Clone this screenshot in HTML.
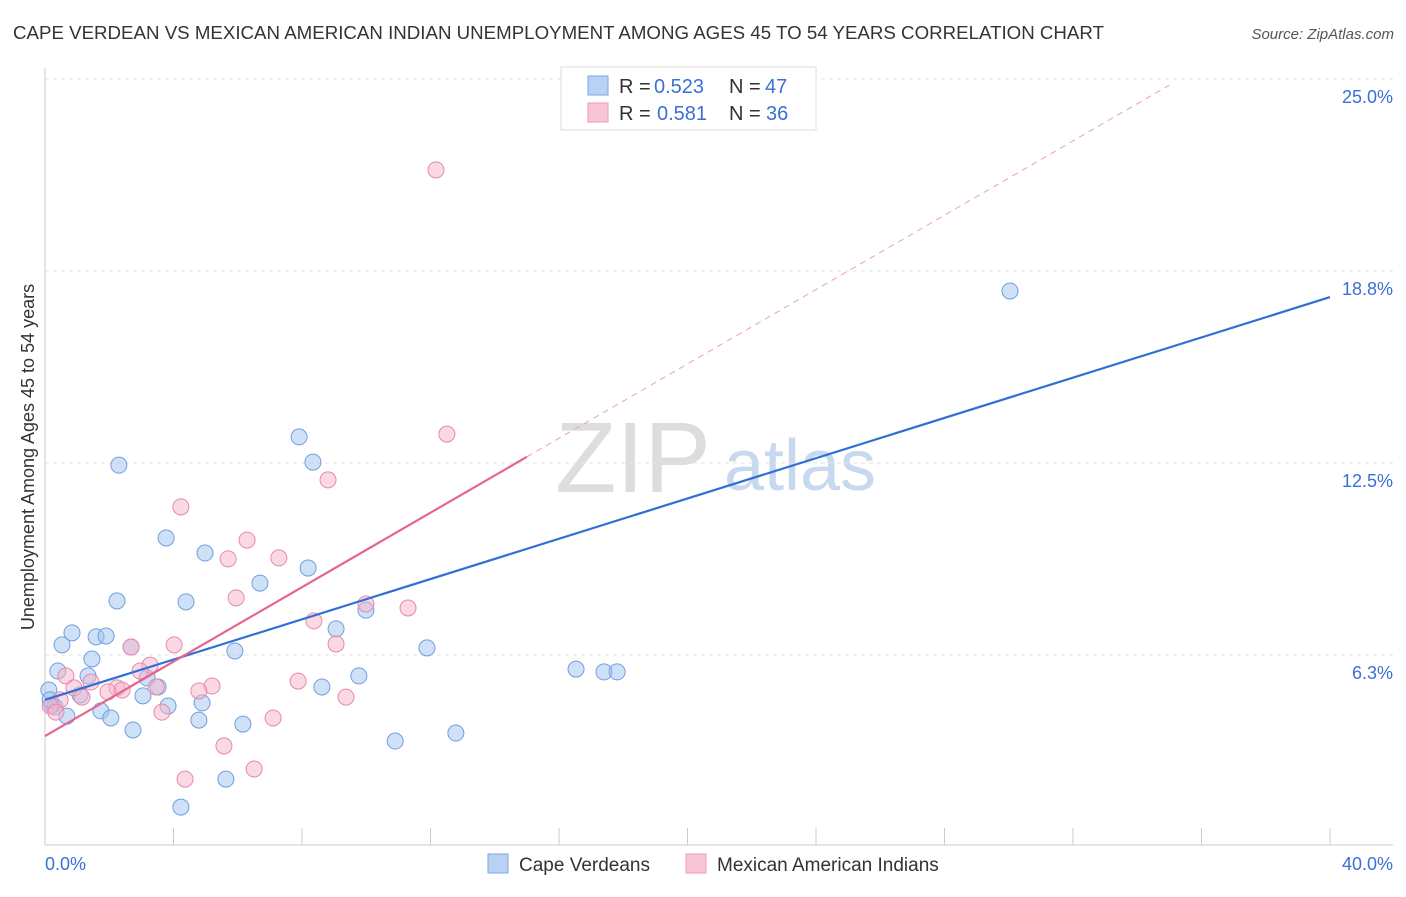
<!DOCTYPE html>
<html><head><meta charset="utf-8"><style>
body{margin:0;background:#fff;font-family:"Liberation Sans",sans-serif;}
svg text{font-family:"Liberation Sans",sans-serif;}
</style></head><body>
<svg id="chart" width="1406" height="892" xmlns="http://www.w3.org/2000/svg">
<text x="13" y="39" font-size="18" fill="#333" textLength="1091" lengthAdjust="spacingAndGlyphs">CAPE VERDEAN VS MEXICAN AMERICAN INDIAN UNEMPLOYMENT AMONG AGES 45 TO 54 YEARS CORRELATION CHART</text>
<text x="1394" y="39" font-size="15" fill="#555" font-style="italic" text-anchor="end">Source: ZipAtlas.com</text>
<g>
<text x="633" y="492" font-size="100" fill="#ddd" font-family="Liberation Serif" text-anchor="middle">ZIP</text>
<text x="800" y="490" font-size="72" fill="#c8d9ef" text-anchor="middle">atlas</text>
</g>
<g id="grid"></g>
<g id="axes"></g>
<g id="marks"></g>
<text transform="translate(34,457) rotate(-90)" font-size="18" fill="#333" text-anchor="middle">Unemployment Among Ages 45 to 54 years</text>
<g>
<rect x="561" y="67" width="255" height="63" fill="#fff" stroke="#ddd"/>
<rect x="588" y="76" width="20" height="19" fill="#b9d2f4" stroke="#7aa6e4"/>
<rect x="588" y="103" width="20" height="19" fill="#f8c6d5" stroke="#ec9ab5"/>
<text x="619" y="93" font-size="20" fill="#333">R =</text>
<text x="654" y="93" font-size="20" fill="#3a6fd8">0.523</text>
<text x="729" y="93" font-size="20" fill="#333">N =</text>
<text x="765" y="93" font-size="20" fill="#3a6fd8">47</text>
<text x="619" y="120" font-size="20" fill="#333">R =</text>
<text x="657" y="120" font-size="20" fill="#3a6fd8">0.581</text>
<text x="729" y="120" font-size="20" fill="#333">N =</text>
<text x="766" y="120" font-size="20" fill="#3a6fd8">36</text>
</g>
<g>
<rect x="488" y="854" width="20" height="19" fill="#b9d2f4" stroke="#7aa6e4"/>
<text x="519" y="871" font-size="19" fill="#333">Cape Verdeans</text>
<rect x="686" y="854" width="20" height="19" fill="#f8c6d5" stroke="#ec9ab5"/>
<text x="717" y="871" font-size="19" fill="#333">Mexican American Indians</text>
</g>
</svg>
<script>
const yTicks=[6.25,12.5,18.75,25];
const yTickLabels=["6.3%","12.5%","18.8%","25.0%"];
const xTickLabels=["0.0%","40.0%"];
const blueX=[2.30,7.91,8.34,3.77,4.98,8.19,6.69,2.24,4.39,0.84,1.59,1.90,0.53,2.68,5.91,1.46,0.40,1.34,3.18,3.52,0.12,1.09,3.05,0.22,3.83,4.89,1.74,2.05,0.68,4.79,6.16,2.74,9.06,9.99,8.62,9.77,11.89,16.53,17.40,17.81,10.90,12.79,5.63,4.23,30.04,0.31,0.16];
const blueY=[12.43,13.35,12.53,10.06,9.57,9.08,8.59,8.01,7.98,6.97,6.84,6.87,6.58,6.51,6.38,6.12,5.73,5.57,5.50,5.21,5.11,4.95,4.92,4.62,4.59,4.69,4.43,4.20,4.26,4.13,4.00,3.81,7.10,7.71,5.21,5.57,6.48,5.79,5.70,5.70,3.45,3.71,2.21,1.30,18.10,4.56,4.79];
const pinkX=[12.17,12.51,8.81,4.23,6.29,7.28,5.70,5.95,9.99,11.30,8.37,9.06,4.02,2.68,3.27,2.96,0.65,1.43,2.24,0.90,2.40,1.96,3.46,5.20,7.88,4.79,9.37,1.15,0.47,0.16,3.64,7.10,5.57,6.51,4.36,0.34];
const pinkY=[22.04,13.44,11.95,11.07,9.99,9.41,9.38,8.11,7.91,7.78,7.36,6.61,6.58,6.51,5.92,5.73,5.57,5.37,5.18,5.18,5.11,5.05,5.21,5.24,5.40,5.08,4.88,4.88,4.79,4.59,4.39,4.20,3.29,2.54,2.21,4.39];
const blueTrendX=[0,40], blueTrendY=[4.79,17.9];
const pinkTrendX=[0,15], pinkTrendY=[3.61,12.7];
const pinkDashX=[15,35], pinkDashY=[12.7,24.8];

const NS="http://www.w3.org/2000/svg";
const sx=v=>45+v*32.125, sy=v=>847-v*30.72;
function mk(p,t,a){const e=document.createElementNS(NS,t);for(const k in a)e.setAttribute(k,a[k]);p.appendChild(e);return e;}
const grid=document.getElementById('grid'),axes=document.getElementById('axes'),marks=document.getElementById('marks');
yTicks.forEach((v,i)=>{
 const l=mk(grid,'line',{x1:45,x2:1393,y1:sy(v),y2:sy(v),stroke:'#e3e3e3','stroke-dasharray':'4,4'});
 
 
 const t=mk(axes,'text',{x:1393,y:sy(v)+24,'font-size':18,fill:'#3a6fd8','text-anchor':'end'});
 t.textContent=yTickLabels[i];
 
 
});
const ax=mk(axes,'line',{x1:45,x2:45,y1:68,y2:845,stroke:'#ccc'});


const bx=mk(axes,'line',{x1:45,x2:1393,y1:845,y2:845,stroke:'#ccc'});


for(let i=0;i<=10;i++){
 const t=mk(axes,'line',{x1:sx(i*4),x2:sx(i*4),y1:828,y2:845,stroke:'#ccc'});
 
 
}
[[0,'start',45],[1,'end',1393]].forEach(([i,a,x])=>{
 const t=mk(axes,'text',{x:x,y:870,'font-size':18,fill:'#3a6fd8','text-anchor':a});
 t.textContent=xTickLabels[i];
 
 
});
blueX.forEach((x,i)=>{
 const c=mk(marks,'circle',{cx:sx(x),cy:sy(blueY[i]),r:8,fill:'rgba(160,195,240,0.5)',stroke:'#6f9fe0','stroke-width':1});
 
 
});
pinkX.forEach((x,i)=>{
 const c=mk(marks,'circle',{cx:sx(x),cy:sy(pinkY[i]),r:8,fill:'rgba(245,180,202,0.5)',stroke:'#e889a8','stroke-width':1});
 
 
});
const bl=mk(marks,'line',{x1:sx(blueTrendX[0]),y1:sy(blueTrendY[0]),x2:sx(blueTrendX[1]),y2:sy(blueTrendY[1]),stroke:'#2f6fd6','stroke-width':2.2});


const pl=mk(marks,'line',{x1:sx(pinkTrendX[0]),y1:sy(pinkTrendY[0]),x2:sx(pinkTrendX[1]),y2:sy(pinkTrendY[1]),stroke:'#e6658f','stroke-width':2.2});


const pd=mk(marks,'line',{x1:sx(pinkDashX[0]),y1:sy(pinkDashY[0]),x2:sx(pinkDashX[1]),y2:sy(pinkDashY[1]),stroke:'#eaa0b8','stroke-width':1,'stroke-dasharray':'6,5'});


</script>
</body></html>
